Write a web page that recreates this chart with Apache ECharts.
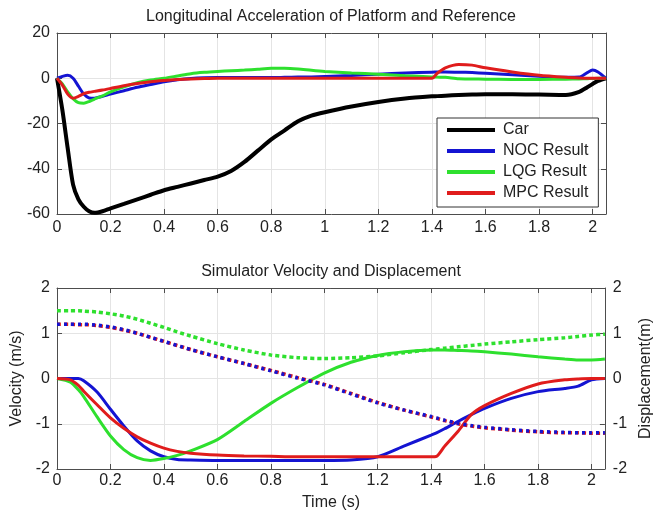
<!DOCTYPE html>
<html>
<head>
<meta charset="utf-8">
<script src="https://cdn.jsdelivr.net/npm/echarts@6/dist/echarts.min.js"></script>
<style>
  html, body { margin: 0; padding: 0; background: #fff; }
  #chart { width: 662px; height: 514px; }
</style>
</head>
<body>
<div id="chart"></div>
<script>
// top plot: longitudinal acceleration
const tAcc = [0, 0.02, 0.04, 0.06, 0.08, 0.1, 0.12, 0.14, 0.17, 0.2, 0.25, 0.3, 0.35, 0.4, 0.45,
  0.5, 0.55, 0.6, 0.65, 0.7, 0.75, 0.8, 0.85, 0.9, 0.95, 1.0, 1.1, 1.2, 1.3, 1.4, 1.42, 1.45,
  1.5, 1.55, 1.6, 1.7, 1.8, 1.9, 1.95, 1.98, 2.0, 2.02, 2.05];
const accCar = [0, -14, -31, -47, -53.5, -56.8, -58.8, -59.5, -58.8, -57.5, -55.5, -53.5, -51.5, -49.5, -48,
  -46.5, -45, -43.5, -41, -37, -32, -27, -23, -19, -16.5, -15, -12.5, -10.5, -9, -8, -7.9, -7.7,
  -7.4, -7.2, -7.1, -7.1, -7.2, -7.4, -6, -4, -2.5, -1.2, 0];
const accNOC = [0, 0.8, 1.3, 0, -3.5, -7, -8.7, -8.8, -8, -7, -5.5, -4, -2.8, -1.6, -0.7,
  -0.1, 0.2, 0.3, 0.3, 0.3, 0.3, 0.3, 0.4, 0.5, 0.6, 0.8, 1.2, 1.8, 2.3, 2.7, 2.75, 2.8,
  2.7, 2.5, 2.2, 1.6, 0.9, 0.4, 0.5, 2.5, 3.6, 2.8, 0];
const accLQG = [0, -2.5, -6, -9, -10.8, -11, -10.3, -9.2, -7.8, -6, -3.8, -2, -0.8, 0, 1,
  2, 2.6, 3, 3.3, 3.6, 4, 4.4, 4.4, 4.1, 3.5, 3, 2.3, 1.8, 1.1, 0.6, 0.5, 0.4,
  -0.2, -0.3, -0.4, -0.5, -0.5, -0.4, -0.3, -0.2, -0.1, 0, 0];
const accMPC = [0, -3, -7, -8.8, -8, -6.8, -6.2, -5.8, -5.2, -4.5, -3.3, -2.3, -1.5, -1, -0.6,
  -0.3, -0.1, 0, 0, 0, 0, 0, 0, 0, 0, 0, 0, 0, 0, 0, 2.2, 4.6,
  6.1, 5.8, 4.6, 2.8, 1.3, 0.4, 0.1, 0, 0, 0, 0];

// bottom plot: velocity (solid, left) and displacement (dotted, right)
const tSim = [0, 0.05, 0.08, 0.1, 0.15, 0.2, 0.25, 0.3, 0.35, 0.4, 0.45, 0.5, 0.6, 0.7, 0.8, 0.9,
  1.0, 1.1, 1.2, 1.3, 1.4, 1.42, 1.45, 1.5, 1.55, 1.6, 1.7, 1.8, 1.9, 1.95, 2.0, 2.05];
const velNOC = [0, 0, 0, -0.05, -0.3, -0.68, -1.05, -1.38, -1.6, -1.73, -1.79, -1.8, -1.81, -1.81, -1.81, -1.81,
  -1.81, -1.8, -1.73, -1.49, -1.25, -1.2, -1.11, -0.95, -0.8, -0.66, -0.44, -0.29, -0.22, -0.17, -0.03, 0];
const velLQG = [0, -0.08, -0.25, -0.4, -0.85, -1.27, -1.57, -1.75, -1.81, -1.77, -1.7, -1.6, -1.35, -0.95, -0.55, -0.2,
  0.12, 0.36, 0.51, 0.59, 0.63, 0.63, 0.63, 0.62, 0.61, 0.59, 0.54, 0.48, 0.43, 0.41, 0.41, 0.43];
const velMPC = [0, -0.03, -0.15, -0.28, -0.58, -0.87, -1.1, -1.29, -1.43, -1.54, -1.61, -1.65, -1.69, -1.71, -1.72, -1.73,
  -1.73, -1.73, -1.73, -1.73, -1.73, -1.72, -1.5, -1.17, -0.8, -0.6, -0.33, -0.12, -0.03, -0.01, 0, 0];
const dispNOC = [1.2, 1.2, 1.2, 1.2, 1.18, 1.14, 1.08, 1.0, 0.91, 0.82, 0.73, 0.64, 0.48, 0.33, 0.17, 0.01,
  -0.14, -0.34, -0.54, -0.7, -0.84, -0.87, -0.92, -0.99, -1.04, -1.08, -1.13, -1.17, -1.19, -1.2, -1.2, -1.2];
const dispLQG = [1.5, 1.5, 1.5, 1.49, 1.47, 1.43, 1.38, 1.31, 1.22, 1.13, 1.03, 0.94, 0.77, 0.63, 0.52, 0.46,
  0.44, 0.46, 0.5, 0.57, 0.64, 0.65, 0.67, 0.7, 0.73, 0.76, 0.81, 0.86, 0.9, 0.93, 0.96, 0.98];
const dispMPC = [1.2, 1.2, 1.19, 1.19, 1.17, 1.13, 1.07, 1.0, 0.91, 0.82, 0.73, 0.64, 0.48, 0.33, 0.18, 0.02,
  -0.13, -0.33, -0.53, -0.7, -0.85, -0.88, -0.93, -1.0, -1.05, -1.09, -1.14, -1.18, -1.2, -1.2, -1.21, -1.21];

const accTicks = [-60, 20, 20];   // min, max, step
const simTicks = [-2, 2, 1];
const timeTicks = [0, 2.05, 0.2];

const FONT = "'Liberation Sans', Arial, sans-serif";
const TXT = '#222';
const AX = '#4d4d4d';
const GRIDC = '#e4e4e4';
const C = { car: '#000000', noc: '#1414d2', lqg: '#2ee02e', mpc: '#e01c1c' };

function pairs(t, v) {
  return t.map((x, i) => [x, v[i]]);
}

function timeLabel(v) {
  let k = v / 0.2;
  if (Math.abs(k - Math.round(k)) > 1e-6) return '';
  return String(+v.toFixed(1));
}

function xAx(grid, opts) {
  return Object.assign({
    type: 'value', gridIndex: grid,
    min: timeTicks[0], max: timeTicks[1], interval: timeTicks[2],
    axisLine: { show: true, onZero: false, lineStyle: { color: AX, width: 1 } },
    axisTick: { show: true, inside: true, length: 5, lineStyle: { color: AX } },
    axisLabel: { color: TXT, fontSize: 16, fontFamily: FONT, margin: 6, formatter: timeLabel },
    splitLine: { show: true, lineStyle: { color: GRIDC, width: 1 } }
  }, opts || {});
}

function yAx(grid, ticks, opts) {
  return Object.assign({
    type: 'value', gridIndex: grid,
    min: ticks[0], max: ticks[1], interval: ticks[2],
    axisLine: { show: true, onZero: false, lineStyle: { color: AX, width: 1 } },
    axisTick: { show: true, inside: true, length: 5, lineStyle: { color: AX } },
    axisLabel: { color: TXT, fontSize: 16, fontFamily: FONT, margin: 7 },
    splitLine: { show: true, lineStyle: { color: GRIDC, width: 1 } }
  }, opts || {});
}

const ghost = { axisLabel: { show: false }, splitLine: { show: false } };

function line(name, t, v, color, width, xi, yi, dash, z) {
  return {
    name: name, type: 'line', xAxisIndex: xi, yAxisIndex: yi,
    data: pairs(t, v), showSymbol: false, symbol: 'none', smooth: 0.25,
    lineStyle: { color: color, width: width, type: dash || 'solid' },
    itemStyle: { color: color }, z: z || 2
  };
}

const chart = echarts.init(document.getElementById('chart'), null, { renderer: 'canvas' });
chart.setOption({
  animation: false,
  backgroundColor: '#fff',
  textStyle: { fontFamily: FONT },
  title: [
    { text: 'Longitudinal Acceleration of Platform and Reference', left: 'center', top: 4,
      textStyle: { fontSize: 16, fontWeight: 'normal', color: TXT, fontFamily: FONT } },
    { text: 'Simulator Velocity and Displacement', left: 'center', top: 259,
      textStyle: { fontSize: 16, fontWeight: 'normal', color: TXT, fontFamily: FONT } }
  ],
  legend: {
    data: ['Car', 'NOC Result', 'LQG Result', 'MPC Result'],
    orient: 'vertical', left: 437, top: 118,
    padding: [4, 10, 6, 10], itemGap: 5,
    itemWidth: 48, itemHeight: 4, icon: 'rect',
    backgroundColor: '#fff', borderColor: '#333', borderWidth: 1,
    textStyle: { fontSize: 16, color: TXT, fontFamily: FONT, padding: [0, 0, 0, 3] }
  },
  grid: [
    { left: 57, right: 56, top: 33, height: 181 },
    { left: 57, right: 57, top: 288, height: 181 }
  ],
  xAxis: [
    xAx(0),
    xAx(0, Object.assign({ position: 'top' }, ghost)),
    xAx(1, { name: 'Time (s)', nameLocation: 'middle', nameGap: 26,
      nameTextStyle: { fontSize: 16, color: TXT, fontFamily: FONT },
      axisLabel: { color: TXT, fontSize: 16, fontFamily: FONT, margin: 4, formatter: timeLabel } }),
    xAx(1, Object.assign({ position: 'top' }, ghost))
  ],
  yAxis: [
    yAx(0, accTicks),
    yAx(0, accTicks, Object.assign({ position: 'right' }, ghost)),
    yAx(1, simTicks, { name: 'Velocity (m/s)', nameLocation: 'middle', nameGap: 25, nameRotate: 90,
      nameTextStyle: { fontSize: 16, color: TXT, fontFamily: FONT } }),
    yAx(1, simTicks, { position: 'right', splitLine: { show: false },
      name: 'Displacement(m)', nameLocation: 'middle', nameGap: 24, nameRotate: 90,
      nameTextStyle: { fontSize: 16, color: TXT, fontFamily: FONT },
      axisLabel: { color: TXT, fontSize: 16, fontFamily: FONT, margin: 8 } })
  ],
  series: [
    line('Car', tAcc, accCar, C.car, 4, 0, 0),
    line('NOC Result', tAcc, accNOC, C.noc, 3, 0, 0),
    line('LQG Result', tAcc, accLQG, C.lqg, 3, 0, 0),
    line('MPC Result', tAcc, accMPC, C.mpc, 3, 0, 0),

    line('NOC velocity', tSim, velNOC, C.noc, 3, 2, 2),
    line('LQG velocity', tSim, velLQG, C.lqg, 3, 2, 2),
    line('MPC velocity', tSim, velMPC, C.mpc, 3, 2, 2),
    line('LQG displacement', tSim, dispLQG, C.lqg, 3.5, 2, 3, [4, 3]),
    line('MPC displacement', tSim, dispMPC, C.mpc, 3.5, 2, 3, [4, 3]),
    line('NOC displacement', tSim, dispNOC, C.noc, 3.5, 2, 3, [3, 4], 3)
  ]
});
</script>
</body>
</html>
